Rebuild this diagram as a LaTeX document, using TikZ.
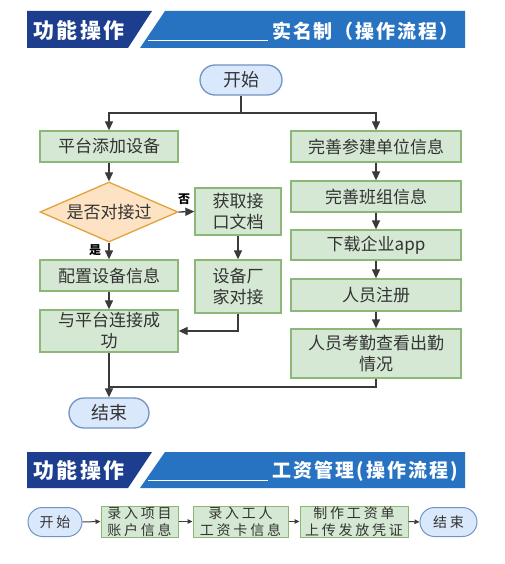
\documentclass[tikz,border=0pt]{standalone}
\usepackage{fontspec}
\setmainfont{Noto Sans CJK SC}
\newfontfamily\hdfont[LetterSpace=10]{Noto Sans CJK SC}
\newfontfamily\hdfontb[LetterSpace=11]{Noto Sans CJK SC}
\newfontfamily\smfont[LetterSpace=20]{Noto Sans CJK SC}
\usetikzlibrary{arrows.meta,shapes.misc,shapes.geometric}
\definecolor{gfill}{HTML}{D5E8D4}
\definecolor{gborder}{HTML}{8DB777}
\definecolor{bfill}{HTML}{DAE8FC}
\definecolor{bborder}{HTML}{7393C4}
\definecolor{ofill}{HTML}{FDE3C4}
\definecolor{oborder}{HTML}{E3A23A}
\definecolor{txt}{HTML}{333333}
\definecolor{line}{HTML}{3A3A3A}
\definecolor{dkblue}{HTML}{1D3E8E}
\definecolor{ltblue}{HTML}{2773C2}
\begin{document}
\begin{tikzpicture}[x=1pt,y=-1pt,
  gbox/.style={draw=gborder, fill=gfill, line width=1.3pt, inner sep=0pt, align=center,
    text=txt, font=\fontsize{17}{21}\selectfont},
  term/.style={rounded rectangle, draw=bborder, fill=bfill, line width=1.3pt, inner sep=0pt,
    text=txt, font=\fontsize{18}{21}\selectfont},
  dec/.style={diamond, aspect=2.3, draw=oborder, fill=ofill, line width=1.3pt, inner sep=0pt,
    text=txt, font=\fontsize{17}{21}\selectfont},
  sbox/.style={draw=gborder, fill=gfill, line width=1pt, inner sep=0pt, align=center,
    text=txt, font=\smfont\fontsize{14}{17}\selectfont},
  sterm/.style={rounded rectangle, draw=bborder, fill=bfill, line width=1pt, inner sep=0pt,
    text=txt, font=\smfont\fontsize{14}{17}\selectfont},
  arr/.style={draw=line, line width=1.3pt, -{Triangle[length=9pt,width=8pt]}},
  ln/.style={draw=line, line width=1.3pt},
  sarr/.style={draw=line, line width=1pt, -{Triangle[length=5pt,width=4.5pt]}},
  lbl/.style={text=black, font=\bfseries\fontsize{12}{14}\selectfont, inner sep=0pt},
  hdl/.style={text=white, font=\hdfont\bfseries\fontsize{21}{24}\selectfont, inner sep=0pt},
  hdr/.style={text=white, font=\hdfont\bfseries\fontsize{19}{22}\selectfont, inner sep=0pt, anchor=west}
]
\useasboundingbox (0,0) rectangle (505,564);
\fill[white] (0,0) rectangle (505,564);

% header 1
\fill[dkblue] (27,11) -- (152,11) -- (128,48) -- (27,48) -- cycle;
\fill[ltblue] (165,11) -- (465,11) -- (465,48) -- (140,48) -- cycle;
\draw[white, line width=0.9pt] (148,40) -- (268,40);
\node[hdl] (h1a) at (79,31) {功能操作};
\node[hdr] (h1b) at (272,31) {实名制（操作流程）};

% flowchart 1
\node[term, minimum width=82pt, minimum height=30pt] (start) at (241,80) {开始};
\node[gbox, minimum width=138pt, minimum height=31pt] (add) at (109,146.5) {平台添加设备};
\node[gbox, minimum width=170pt, minimum height=31pt] (perf) at (376,146.5) {完善参建单位信息};
\node[dec, minimum width=138pt, minimum height=60pt] (ask) at (109,212) {是否对接过};
\node[gbox, minimum width=86pt, minimum height=47pt] (fetch) at (238,211.5) {获取接\\口文档};
\node[gbox, minimum width=138pt, minimum height=31pt] (cfg) at (109,275.5) {配置设备信息};
\node[gbox, minimum width=86pt, minimum height=53pt] (fac) at (238,286.5) {设备厂\\家对接};
\node[gbox, minimum width=138pt, minimum height=42pt] (link) at (109,331) {与平台连接成\\功};
\node[gbox, minimum width=170pt, minimum height=31pt] (team) at (376,196.5) {完善班组信息};
\node[gbox, minimum width=170pt, minimum height=30pt] (app) at (376,245) {下载企业app};
\node[gbox, minimum width=170pt, minimum height=32pt] (reg) at (376,295) {人员注册};
\node[gbox, minimum width=170pt, minimum height=49pt] (att) at (376,353.5) {人员考勤查看出勤\\情况};
\node[term, minimum width=80pt, minimum height=30pt] (end) at (109,413) {结束};
\node[lbl] (no) at (184,199) {否};
\node[lbl] (yes) at (95,250) {是};

\coordinate (split) at (241,113);
\coordinate (join) at (109,387);
\draw[ln] (start.south) -- (split);
\draw[arr] (split) -| (add.north);
\draw[arr] (split) -| (perf.north);
\draw[arr] (add.south) -- (ask.north);
\draw[arr] (ask.east) -- (fetch.west);
\draw[arr] (ask.south) -- (cfg.north);
\draw[arr] (fetch.south) -- (fac.north);
\draw[arr] (cfg.south) -- (link.north);
\draw[arr] (fac.south) |- (link.east);
\draw[arr] (perf.south) -- (team.north);
\draw[arr] (team.south) -- (app.north);
\draw[arr] (app.south) -- (reg.north);
\draw[arr] (reg.south) -- (att.north);
\draw[ln] (att.south) |- (join);
\draw[arr] (link.south) -- (end.north);

% header 2
\fill[dkblue] (27,452) -- (152,452) -- (128,488) -- (27,488) -- cycle;
\fill[ltblue] (165,452) -- (465,452) -- (465,488) -- (140,488) -- cycle;
\draw[white, line width=0.9pt] (148,480) -- (268,480);
\node[hdl] (h2a) at (79,471) {功能操作};
\node[hdr, font=\hdfontb\bfseries\fontsize{19}{22}\selectfont] (h2b) at (272,471) {工资管理(操作流程)};

% flowchart 2
\node[sterm, minimum width=54pt, minimum height=29pt] (s2) at (55,522) {开始};
\node[sbox, minimum width=77pt, minimum height=31pt] (p1) at (139.5,521.5) {录入项目\\账户信息};
\node[sbox, minimum width=95pt, minimum height=31pt] (p2) at (240.5,521.5) {录入工人\\工资卡信息};
\node[sbox, minimum width=108pt, minimum height=31pt] (p3) at (354,521.5) {制作工资单\\上传发放凭证};
\node[sterm, minimum width=57pt, minimum height=29pt] (e2) at (448.5,522) {结束};
\draw[sarr] (s2.east) -- (p1.west);
\draw[sarr] (p1.east) -- (p2.west);
\draw[sarr] (p2.east) -- (p3.west);
\draw[sarr] (p3.east) -- (e2.west);
\end{tikzpicture}
\end{document}
